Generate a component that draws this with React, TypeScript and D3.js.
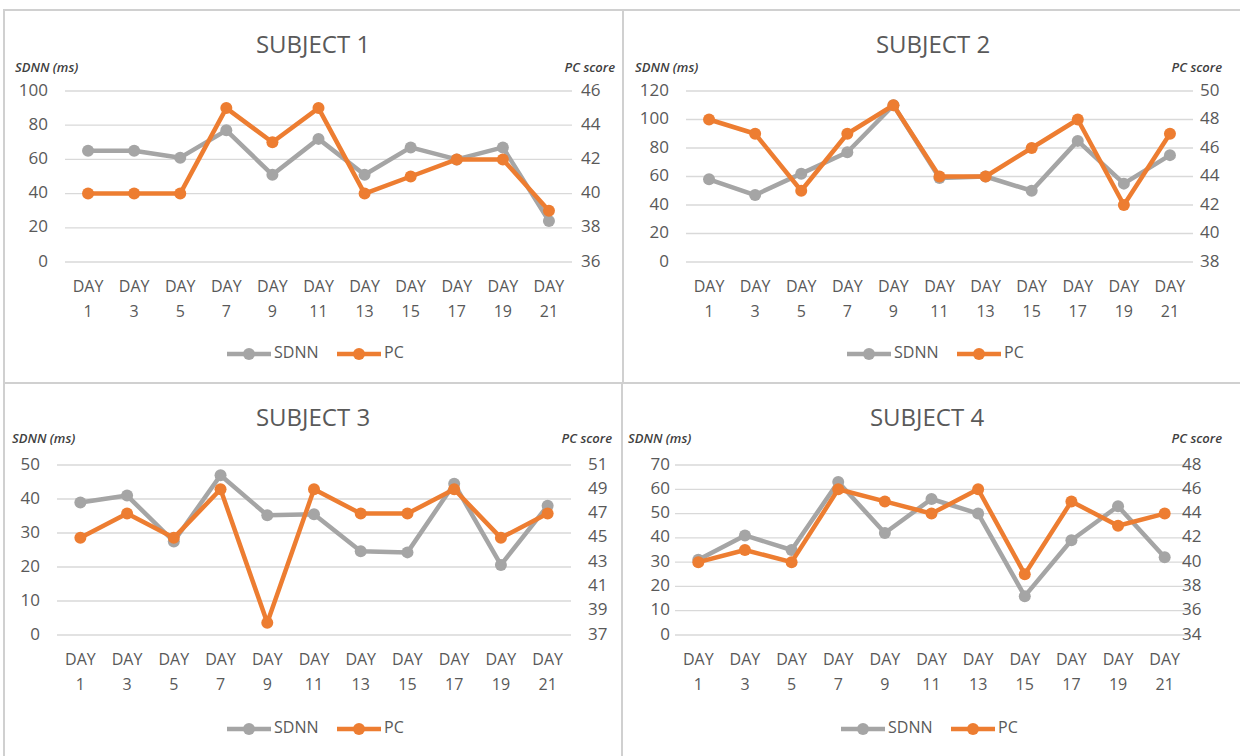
import React from 'react';
import * as d3 from 'd3';

const days = ['1', '3', '5', '7', '9', '11', '13', '15', '17', '19', '21'];

const sdnn1 = [65, 65, 61, 77, 51, 72, 51, 67, 60, 67, 24];
const pc1 = [40, 40, 40, 45, 43, 45, 40, 41, 42, 42, 39];

const sdnn2 = [58, 47, 62, 77, 110, 59, 60, 50, 85, 55, 75];
const pc2 = [48, 47, 43, 47, 49, 44, 44, 46, 48, 42, 47];

const sdnn3 = [39, 41, 27.5, 47, 35.2, 35.5, 24.6, 24.3, 44.5, 20.6, 38];
const pc3 = [45, 47, 45, 49, 38, 49, 47, 47, 49, 45, 47];

const sdnn4 = [31, 41, 35, 63, 42, 56, 50, 16, 39, 53, 32];
const pc4 = [40, 41, 40, 46, 45, 44, 46, 39, 45, 43, 44];

const leftTicks1 = [0, 20, 40, 60, 80, 100];
const rightTicks1 = [36, 38, 40, 42, 44, 46];
const leftTicks2 = [0, 20, 40, 60, 80, 100, 120];
const rightTicks2 = [38, 40, 42, 44, 46, 48, 50];
const leftTicks3 = [0, 10, 20, 30, 40, 50];
const rightTicks3 = [37, 39, 41, 43, 45, 47, 49, 51];
const leftTicks4 = [0, 10, 20, 30, 40, 50, 60, 70];
const rightTicks4 = [34, 36, 38, 40, 42, 44, 46, 48];

const GRAY = '#A5A5A5';
const ORANGE = '#ED7D31';
const TEXT = '#595959';
const FONT = "'Open Sans', 'Liberation Sans', sans-serif";

type PanelProps = {
  title: string;
  sdnn: number[];
  pc: number[];
  leftTicks: number[];
  rightTicks: number[];
  cx: number;
  titleY: number;
  plotLeft: number;
  plotRight: number;
  plotTop: number;
  plotBottom: number;
  leftLabelX: number;
  rightLabelX: number;
  unitLeftX: number;
  unitRightX: number;
  unitY: number;
  legendY: number;
};

const Panel = (p: PanelProps) => {
  const x = d3.scalePoint<string>()
    .domain(days)
    .range([p.plotLeft, p.plotRight])
    .padding(0.5);

  const yLeft = d3.scaleLinear()
    .domain([p.leftTicks[0], p.leftTicks[p.leftTicks.length - 1]])
    .range([p.plotBottom, p.plotTop]);

  const yRight = d3.scaleLinear()
    .domain([p.rightTicks[0], p.rightTicks[p.rightTicks.length - 1]])
    .range([p.plotBottom, p.plotTop]);

  const lineL = d3.line<number>()
    .x((d, i) => x(days[i])!)
    .y(d => yLeft(d));
  const lineR = d3.line<number>()
    .x((d, i) => x(days[i])!)
    .y(d => yRight(d));

  const lx = p.cx - 86;

  return (
    <g fontFamily={FONT} fill={TEXT}>
      <text x={p.cx} y={p.titleY} fontSize={24} textAnchor="middle" dominantBaseline="middle">{p.title}</text>
      <text x={p.unitLeftX} y={p.unitY} fontSize={13} fontStyle="italic" fontWeight="600" fill="#404040" dominantBaseline="middle">SDNN (ms)</text>
      <text x={p.unitRightX} y={p.unitY} fontSize={13} fontStyle="italic" fontWeight="600" fill="#404040" textAnchor="end" dominantBaseline="middle">PC score</text>

      {p.leftTicks.map(t => (
        <g key={'l' + t}>
          <line x1={p.plotLeft} x2={p.plotRight} y1={yLeft(t)} y2={yLeft(t)} stroke="#D9D9D9" strokeWidth={1.3} />
          <text x={p.leftLabelX} y={yLeft(t)} fontSize={17} textAnchor="end" dominantBaseline="middle">{t}</text>
        </g>
      ))}
      {p.rightTicks.map(t => (
        <text key={'r' + t} x={p.rightLabelX} y={yRight(t)} fontSize={17} dominantBaseline="middle">{t}</text>
      ))}

      {days.map(d => (
        <g key={d} fontSize={16} textAnchor="middle">
          <text x={x(d)} y={p.plotBottom + 26} dominantBaseline="middle">DAY</text>
          <text x={x(d)} y={p.plotBottom + 51} dominantBaseline="middle">{d}</text>
        </g>
      ))}

      <path d={lineL(p.sdnn)!} fill="none" stroke={GRAY} strokeWidth={4.5} strokeLinejoin="round" />
      {p.sdnn.map((v, i) => (
        <circle key={'s' + i} cx={x(days[i])} cy={yLeft(v)} r={6} fill={GRAY} />
      ))}
      <path d={lineR(p.pc)!} fill="none" stroke={ORANGE} strokeWidth={4.5} strokeLinejoin="round" />
      {p.pc.map((v, i) => (
        <circle key={'p' + i} cx={x(days[i])} cy={yRight(v)} r={6} fill={ORANGE} />
      ))}

      <line x1={lx} x2={lx + 44} y1={p.legendY} y2={p.legendY} stroke={GRAY} strokeWidth={4.5} />
      <circle cx={lx + 22} cy={p.legendY} r={6} fill={GRAY} />
      <text x={lx + 47} y={p.legendY} fontSize={16} dominantBaseline="middle">SDNN</text>
      <line x1={lx + 110} x2={lx + 154} y1={p.legendY} y2={p.legendY} stroke={ORANGE} strokeWidth={4.5} />
      <circle cx={lx + 132} cy={p.legendY} r={6} fill={ORANGE} />
      <text x={lx + 157} y={p.legendY} fontSize={16} dominantBaseline="middle">PC</text>
    </g>
  );
};

export default function App() {
  return (
    <div style={{ position: 'absolute', left: 0, top: 0 }}>
      <svg width={1240} height={756} style={{ display: 'block', background: '#fff' }}>
        <g fill="none" stroke="#D0D0D0" strokeWidth={2}>
          <rect x={4} y={10} width={1250} height={760} />
          <line x1={623} x2={623} y1={10} y2={383} />
          <line x1={4} x2={1240} y1={383} y2={383} />
          <line x1={622} x2={622} y1={383} y2={760} />
        </g>
        <Panel title="SUBJECT 1" sdnn={sdnn1} pc={pc1} leftTicks={leftTicks1} rightTicks={rightTicks1}
          cx={313} titleY={47} plotLeft={65} plotRight={572} plotTop={91} plotBottom={262}
          leftLabelX={48} rightLabelX={581} unitLeftX={15} unitRightX={615} unitY={69} legendY={354} />
        <Panel title="SUBJECT 2" sdnn={sdnn2} pc={pc2} leftTicks={leftTicks2} rightTicks={rightTicks2}
          cx={933} titleY={47} plotLeft={686} plotRight={1193} plotTop={91} plotBottom={262}
          leftLabelX={669} rightLabelX={1200} unitLeftX={635} unitRightX={1222} unitY={69} legendY={354} />
        <Panel title="SUBJECT 3" sdnn={sdnn3} pc={pc3} leftTicks={leftTicks3} rightTicks={rightTicks3}
          cx={313} titleY={420} plotLeft={57} plotRight={571} plotTop={465} plotBottom={635}
          leftLabelX={40} rightLabelX={588} unitLeftX={12} unitRightX={612} unitY={440} legendY={729} />
        <Panel title="SUBJECT 4" sdnn={sdnn4} pc={pc4} leftTicks={leftTicks4} rightTicks={rightTicks4}
          cx={927} titleY={420} plotLeft={675} plotRight={1188} plotTop={465} plotBottom={635}
          leftLabelX={670} rightLabelX={1182} unitLeftX={628} unitRightX={1222} unitY={440} legendY={729} />
      </svg>
    </div>
  );
}
